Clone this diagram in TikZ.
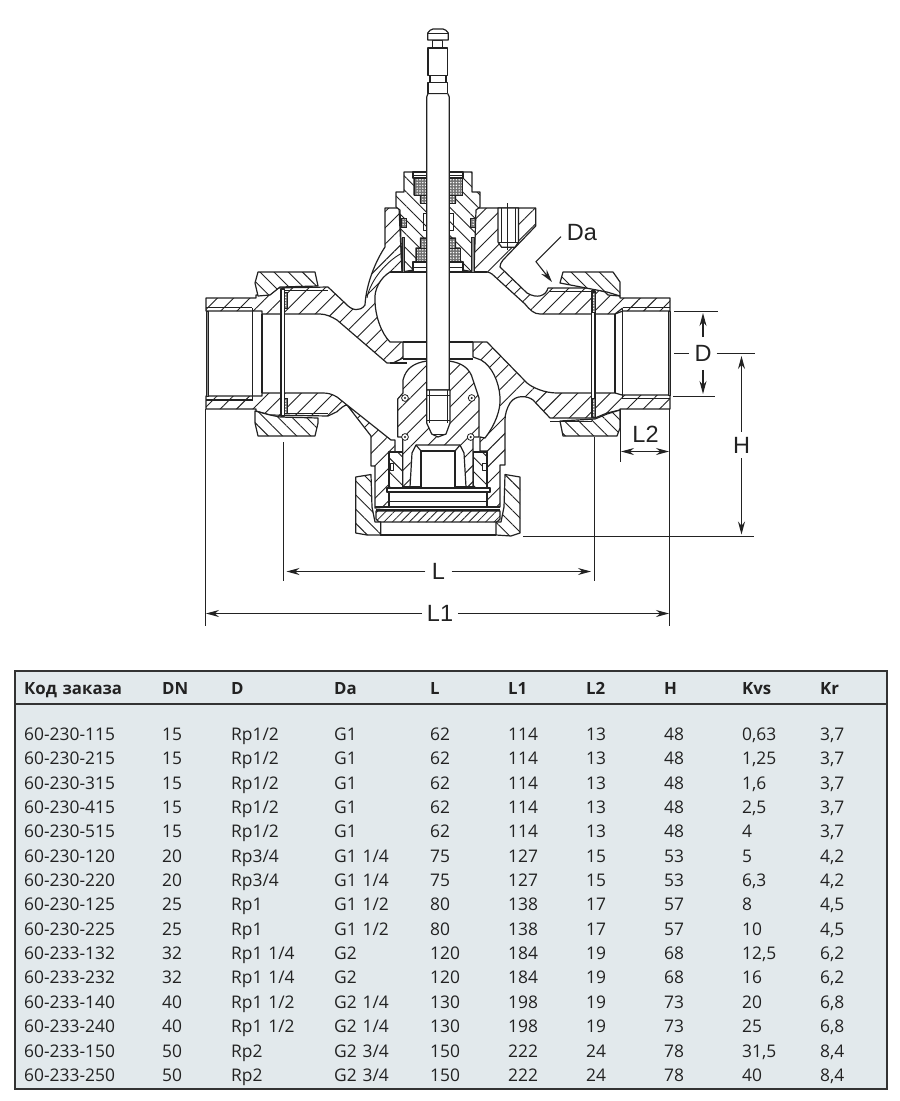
\documentclass[tikz,border=0pt]{standalone}
\usepackage{fontspec}
\usepackage{xcolor}
\setmainfont{Open Sans}
\newfontfamily\dimfont{Liberation Sans}
\usetikzlibrary{arrows.meta,patterns.meta,matrix}

\definecolor{inkc}{HTML}{222222}
\definecolor{panelc}{HTML}{E2E9EC}
\definecolor{rulec}{HTML}{333333}

\tikzset{
  outline/.style={draw=inkc, line width=1.2pt, line join=round},
  hatchR/.style={outline, preaction={fill=white}, pattern={Lines[angle=45,distance=11.5pt,line width=.9pt]}, pattern color=inkc},
  hatchL/.style={outline, preaction={fill=white}, pattern={Lines[angle=-45,distance=10pt,line width=.9pt]}, pattern color=inkc},
  hatchfine/.style={outline, preaction={fill=white}, pattern={Lines[angle=45,distance=6pt,line width=.8pt]}, pattern color=inkc},
  packing/.style={draw=inkc, line width=.6pt, preaction={fill=black!55}, pattern={Dots[radius=.8pt,distance=2.8pt]}, pattern color=white},
  blank/.style={outline, fill=white},
  dimline/.style={draw=inkc, line width=1.1pt},
  dimarrow/.style={dimline, -{Stealth[length=13pt,width=7pt]}},
  dimlabel/.style={font=\dimfont\fontsize{23.5}{24}\selectfont, text=inkc, inner sep=4.5pt},
  tablecell/.style={anchor=base west, inner sep=0pt, text=inkc, font=\fontsize{17.4}{20}\selectfont, text height=13pt, text depth=11.36pt, align=left},
}

% половина сальника
\newcommand{\glandhalf}{
\draw [hatchL] (404,172) -- (404,192) -- (396,192) -- (396,207) -- (400,210) -- (402,272) -- (413,270) -- (413,262) -- (416,262) -- (416,248) -- (420.5,248) -- (420.5,238) -- (426.7,238) -- (426.7,203) -- (420.5,203) -- (420.5,195) -- (414,195) -- (414,180) -- (413,172) -- cycle;
\draw [blank] (413,172) rectangle (426.7,178);
\draw [outline, line width=.8pt] (413,175.5) -- (426.7,175.5);
\draw [packing] (414,178) rectangle (426.7,195);
\draw [packing] (420.5,195) rectangle (426.7,203);
\draw [packing] (420.5,238) rectangle (426.7,248);
\draw [packing] (416,248) rectangle (426.7,262);
\draw [blank] (413,262) rectangle (426.7,272);
\draw [outline, line width=.8pt] (413,267) -- (426.7,267);
\draw [packing] (401,218) rectangle (406,227);
\draw [outline, fill=black!45, line width=.7pt] (402,237) rectangle (404.5,272);
\draw [outline, line width=.8pt] (423,213) -- (423,230) -- (426.7,230);
\draw [outline, line width=.8pt] (423,213) -- (426.7,213);
}

\begin{document}
\begin{tikzpicture}[x=1pt, y=-1pt]
\useasboundingbox (0,0) rectangle (900,1101);
% корпус
\draw [hatchR] (206,298) -- (256,298) -- (256,295) -- (270,293) -- (274,288) -- (328,287) -- (345,303) .. controls (352,311) and (360,312) .. (365,305) .. controls (366,285) and (375,262) .. (385,247) -- (385,208) -- (399,208) -- (402,272) -- (390,272) .. controls (380,278) and (374,290) .. (375,300) .. controls (375,315) and (381,333) .. (390,342) -- (403,342) -- (403,358) -- (393,363) -- (387,363) -- (337,320) .. controls (332,317) and (326,314) .. (320,314) -- (262,314) -- (262,311) -- (206,311) -- cycle;
\draw [hatchR] (206,409) -- (256,409) -- (256,411) -- (270,415) -- (328,416) -- (337,411.7) .. controls (340,409) and (344,405) .. (347,405) -- (371,436) -- (371,466) -- (375,466) -- (375,508) -- (389,507) -- (389,492) -- (387,492) -- (387,488) -- (389,488) -- (389,452) -- (395,452) -- (395,440) -- (391,440) -- (337,397) .. controls (332,394) and (328,393) .. (323,393) -- (262,393) -- (262,396) -- (206,396) -- cycle;
\draw [hatchR] (475.3,208) -- (535.7,208) -- (535.7,226) -- (503,260) .. controls (501,262) and (500,265) .. (500,267) -- (527,293) .. controls (537,299) and (546,296) .. (548,288) -- (592,288) -- (605,292) -- (608,295) -- (620,296) -- (620,298) -- (670,298) -- (670,311) -- (623,311) -- (615,314) -- (540,314) .. controls (534,314) and (530,310) .. (525,304) -- (492,274) .. controls (490,273) and (489,272) .. (487,272) -- (474,272) -- cycle;
\draw [hatchR] (473,342) -- (487,342) -- (527,383) .. controls (533,388) and (545,393) .. (557,393) -- (615,393) -- (622,395) -- (670,395) -- (670,409) -- (620,409) -- (620,410) -- (607,413) -- (595,418) -- (550,418) -- (533,400) .. controls (528,396) and (516,394) .. (510,403) .. controls (507,408) and (505,414) .. (505,420) -- (505,465) -- (500,465) -- (500,507) -- (487,507) -- (487,492) -- (490,492) -- (490,488) -- (487,488) -- (487,451) -- (480,451) -- (480,437) -- (485,438) .. controls (495,425) and (501,410) .. (500,397) .. controls (499,382) and (492,366) .. (481,360) -- (473,357) -- cycle;
\draw [outline, line width=.9pt] (367,298) .. controls (369,285) and (382,264) .. (402,253);
% камера
\draw [outline] (390,272) -- (487,272);
\draw [outline] (403,342) -- (473,342);
\draw [outline, line width=1.6pt] (403,358.7) -- (473,358.7);
\draw [outline] (390,363) -- (407,363);
% отверстие
\draw [blank] (498,208) -- (498,242) -- (501.7,247.3) -- (515,247.3) -- (518.5,242) -- (518.5,208) -- cycle;
\draw [outline, line width=.8pt] (501,208) -- (501,242);
\draw [outline, line width=.8pt] (515.5,208) -- (515.5,242);
\draw [outline, line width=.8pt] (498,242) -- (518.5,242);
\draw [outline, line width=.8pt] (507.7,203) -- (507.7,250);
% гайки
\draw [hatchL] (258,272) -- (315,272) -- (318,286) -- (280,287) -- (270,295) -- (258,296) -- (255,283) -- cycle;
\draw [hatchL] (255,411) -- (255,423) -- (258,436) -- (315,436) -- (318,423) -- (318,418) -- (280,417) -- (270,415) -- cycle;
\draw [hatchL] (563,272) -- (613,272) -- (620,282) -- (620,296) -- (607,292) -- (560,283) -- cycle;
\draw [hatchL] (560,421) -- (563,436) -- (617,436) -- (620,428) -- (620,410) -- (607,414) -- (595,419) -- cycle;
\draw [outline, line width=.8pt] (280,290.5) -- (328,290.5);
\draw [outline, line width=.8pt] (280,413) -- (328,413);
\draw [outline, line width=.8pt] (549,291) -- (592,291);
\draw [outline, line width=.8pt] (550,421) -- (592,421);
% прокладки
\draw [blank] (281,289) rectangle (284.7,416);
\draw [packing] (284.7,292) rectangle (287,308);
\draw [packing] (284.7,398) rectangle (287,413);
\draw [blank] (591.7,291) rectangle (595,417);
\draw [packing] (592,292) rectangle (595,312);
\draw [packing] (592,398) rectangle (595,417);
% резьба слева
\draw [outline, fill=black!45, line width=.6pt] (206,311) rectangle (207.8,396);
\draw [outline] (206,307.7) -- (252,307.7);
\draw [outline] (206,400) -- (253,400);
\draw [outline, line width=1.7pt] (252.5,308) -- (252.5,400);
\draw [outline] (262,314) -- (262,393);
% резьба справа
\draw [outline, fill=black!45, line width=.6pt] (668,311) rectangle (670,395);
\draw [outline] (623,307.7) -- (670,307.7);
\draw [outline] (622,398.5) -- (670,398.5);
\draw [outline] (615,314) -- (615,393);
\draw [outline] (622.7,309) -- (622.7,398);
\draw [outline] (615,314) -- (622.7,308);
% сальник
\glandhalf
\begin{scope}[shift={(876,0)}, xscale=-1]
\glandhalf
\end{scope}
% пробка
\draw [hatchR] (426.7,361) .. controls (414,363) and (406,368) .. (403,380) -- (403,393) -- (397.7,399) -- (397.7,437) -- (402.7,437) -- (402.7,487) -- (410,487) -- (412,453) -- (416,445) -- (460,445) -- (464,453) -- (466,487) -- (473,487) -- (473,437) -- (479,437) -- (479,398) -- (473,380) .. controls (470,368) and (462,363) .. (449.3,361) -- cycle;
\draw [hatchL] (389,452) rectangle (402.7,488);
\draw [hatchL] (473.3,452) rectangle (487,488);
\draw [blank, line width=.8pt] (390,463) rectangle (393,470);
\draw [blank, line width=.8pt] (482.7,463) rectangle (486,470);
\draw [outline] (421,451) -- (421,487);
\draw [outline] (455,451) -- (455,487);
\draw [outline, line width=2pt] (421,451) -- (455,451);
\draw [outline] (416,445) -- (421,451);
\draw [outline] (460,445) -- (455,451);
\draw [outline, line width=2pt] (402.7,487) -- (421,487);
\draw [outline, line width=2pt] (455,487) -- (473,487);
\draw [outline] (402.7,452) -- (402.7,487);
\draw [blank] (387,488) rectangle (490,492);
\draw [outline] (389,492) -- (389,507);
\draw [outline] (487,492) -- (487,507);
\draw [outline] (389,501.7) -- (487,501.7);
\draw [outline] (375,507) -- (500,507);
\draw [outline, line width=1.6pt] (376,510) -- (500,510);
\draw [hatchfine] (376,511) -- (500,511) -- (500,519) -- (497,522) -- (379,522) -- (376,519) -- cycle;
\draw [outline] (380,535) -- (496,535);
% кольца
\foreach \ringx/\ringy in {405/398, 471.7/398, 405/437, 470.7/437} {
\draw [blank, line width=.8pt] (\ringx,\ringy) circle [radius=3.4];
\fill [inkc] (\ringx,\ringy) circle [radius=1.2];
}
% нижнее кольцо
\draw [hatchL] (355.7,477) -- (371,474.5) -- (372,507) -- (375,522) -- (380.7,522) -- (380.7,535) -- (367,535) -- (355.7,533) -- cycle;
\draw [hatchL] (520,477) -- (505,474.5) -- (504,507) -- (501,522) -- (496,522) -- (496,535) -- (511,536) -- (520,533) -- cycle;
% шток
\draw [blank] (426.7,390) -- (426.7,97) -- (428,93.5) -- (447.7,93.5) -- (449.3,97) -- (449.3,390) -- cycle;
\draw [blank] (428,82.7) rectangle (447.7,93.5);
\draw [blank] (430,75.7) rectangle (446,82.7);
\draw [blank] (428,48) rectangle (447.7,75.7);
\draw [blank] (432.7,40) rectangle (442.7,48);
\draw [blank] (427.7,40) -- (427.7,33) .. controls (429,31) and (431,29) .. (433,29) -- (443,29) .. controls (445,29) and (447,31) .. (448.3,33) -- (448.3,40) -- cycle;
\draw [outline, line width=.9pt] (427.7,33) -- (448.3,33);
% низ штока
\draw [blank] (426.7,390) -- (426.7,423) -- (431.7,434) -- (438,437) -- (446,434) -- (450,423) -- (450,390) -- cycle;
\draw [outline, line width=.9pt] (426.7,395) -- (450,395);
\draw [outline, line width=.9pt] (426.7,420) -- (450,420);
\draw [outline, line width=.9pt] (429,390) -- (429,423);
\draw [outline, line width=.9pt] (447.7,390) -- (447.7,423);
\draw [outline, line width=.9pt] (431.7,434) -- (446,434);
% размеры L1
\coordinate (extLoneA) at (205.5,409);
\coordinate (extLoneB) at (205.5,626);
\coordinate (extLoneC) at (669.5,409);
\coordinate (extLoneD) at (669.5,626);
\coordinate (tipLoneA) at (206,613.5);
\coordinate (tipLoneB) at (669,613.5);
\draw [dimline] (extLoneA) -- (extLoneB);
\draw [dimline] (extLoneC) -- (extLoneD);
\node [dimlabel] (labelLone) at (440,613.5) {L1};
\draw [dimarrow] (labelLone) -- (tipLoneA);
\draw [dimarrow] (labelLone) -- (tipLoneB);
% размеры L
\coordinate (extLA) at (283.5,442);
\coordinate (extLB) at (283.5,580.7);
\coordinate (extLC) at (594.5,437);
\coordinate (extLD) at (594.5,580.7);
\coordinate (tipLA) at (286.5,571.5);
\coordinate (tipLB) at (591,571.5);
\draw [dimline] (extLA) -- (extLB);
\draw [dimline] (extLC) -- (extLD);
\node [dimlabel, inner sep=6.5pt] (labelL) at (438.5,571.5) {L};
\draw [dimarrow] (labelL) -- (tipLA);
\draw [dimarrow] (labelL) -- (tipLB);
% размеры H
\coordinate (extHA) at (523,536.5);
\coordinate (extHB) at (754,536.5);
\coordinate (tipHA) at (741.5,356);
\coordinate (tipHB) at (741.5,534.5);
\draw [dimline] (extHA) -- (extHB);
\node [dimlabel, inner sep=5pt] (labelH) at (741.5,445) {H};
\draw [dimarrow] (labelH) -- (tipHA);
\draw [dimarrow] (labelH) -- (tipHB);
% размеры D
\coordinate (extDA) at (674,311.5);
\coordinate (extDB) at (718,311.5);
\coordinate (extDC) at (673,396.5);
\coordinate (extDD) at (715,396.5);
\coordinate (extDE) at (674,353.5);
\coordinate (extDF) at (755,353.5);
\coordinate (tipDA) at (703,313);
\coordinate (tipDB) at (703,394);
\draw [dimline] (extDA) -- (extDB);
\draw [dimline] (extDC) -- (extDD);
\node [dimlabel, inner sep=5pt, inner ysep=8pt] (labelD) at (703,353.5) {D};
\draw [dimline] (extDE) -- (labelD);
\draw [dimline] (labelD) -- (extDF);
\draw [dimarrow] (labelD) -- (tipDA);
\draw [dimarrow] (labelD) -- (tipDB);
% размеры L2
\coordinate (extLtwoA) at (620.5,409);
\coordinate (extLtwoB) at (620.5,462);
\coordinate (tipLtwoA) at (621,451.5);
\coordinate (tipLtwoB) at (669,451.5);
\coordinate (tipLtwoC) at (645,451.5);
\draw [dimline] (extLtwoA) -- (extLtwoB);
\draw [dimarrow] (tipLtwoC) -- (tipLtwoA);
\draw [dimarrow] (tipLtwoC) -- (tipLtwoB);
\node [dimlabel] (labelLtwo) at (645.5,434) {L2};
% выноска Da
\node [dimlabel, inner sep=0pt] (labelDa) at (582,233) {Da};
\coordinate (bendDa) at (536,261.7);
\coordinate (startDa) at (561,236.7);
\coordinate (tipDa) at (552,282);
\draw [dimarrow] (startDa) -- (bendDa) -- (tipDa);
% таблица
\draw [draw=rulec, fill=panelc, line width=2pt] (15,670.5) rectangle (887,1089);
\coordinate (ruleA) at (15,703.5);
\coordinate (ruleB) at (887,703.5);
\draw [draw=rulec, line width=2pt] (ruleA) -- (ruleB);
\matrix (tbl) [matrix of nodes, anchor=north west, inner sep=0pt, row sep=0pt, column sep=0pt,
  nodes={tablecell},
  column 1/.style={nodes={text width=138pt}},
  column 2/.style={nodes={text width=69pt}},
  column 3/.style={nodes={text width=103pt}},
  column 4/.style={nodes={text width=96pt}},
  column 5/.style={nodes={text width=78pt}},
  column 6/.style={nodes={text width=78pt}},
  column 7/.style={nodes={text width=78pt}},
  column 8/.style={nodes={text width=78pt}},
  column 9/.style={nodes={text width=78pt}},
  column 10/.style={nodes={text width=60pt}},
  row 1/.style={nodes={font=\fontsize{16.8}{20}\selectfont\bfseries}},
] at (24,681.5) {
Код заказа & DN & D & Da & L & L1 & L2 & H & Kvs & Kr \\[21.3pt]
60-230-115 & 15 & Rp1/2 & G1 & 62 & 114 & 13 & 48 & 0,63 & 3,7 \\
60-230-215 & 15 & Rp1/2 & G1 & 62 & 114 & 13 & 48 & 1,25 & 3,7 \\
60-230-315 & 15 & Rp1/2 & G1 & 62 & 114 & 13 & 48 & 1,6 & 3,7 \\
60-230-415 & 15 & Rp1/2 & G1 & 62 & 114 & 13 & 48 & 2,5 & 3,7 \\
60-230-515 & 15 & Rp1/2 & G1 & 62 & 114 & 13 & 48 & 4 & 3,7 \\
60-230-120 & 20 & Rp3/4 & G1 1/4 & 75 & 127 & 15 & 53 & 5 & 4,2 \\
60-230-220 & 20 & Rp3/4 & G1 1/4 & 75 & 127 & 15 & 53 & 6,3 & 4,2 \\
60-230-125 & 25 & Rp1 & G1 1/2 & 80 & 138 & 17 & 57 & 8 & 4,5 \\
60-230-225 & 25 & Rp1 & G1 1/2 & 80 & 138 & 17 & 57 & 10 & 4,5 \\
60-233-132 & 32 & Rp1 1/4 & G2 & 120 & 184 & 19 & 68 & 12,5 & 6,2 \\
60-233-232 & 32 & Rp1 1/4 & G2 & 120 & 184 & 19 & 68 & 16 & 6,2 \\
60-233-140 & 40 & Rp1 1/2 & G2 1/4 & 130 & 198 & 19 & 73 & 20 & 6,8 \\
60-233-240 & 40 & Rp1 1/2 & G2 1/4 & 130 & 198 & 19 & 73 & 25 & 6,8 \\
60-233-150 & 50 & Rp2 & G2 3/4 & 150 & 222 & 24 & 78 & 31,5 & 8,4 \\
60-233-250 & 50 & Rp2 & G2 3/4 & 150 & 222 & 24 & 78 & 40 & 8,4 \\
};
\end{tikzpicture}
\end{document}
